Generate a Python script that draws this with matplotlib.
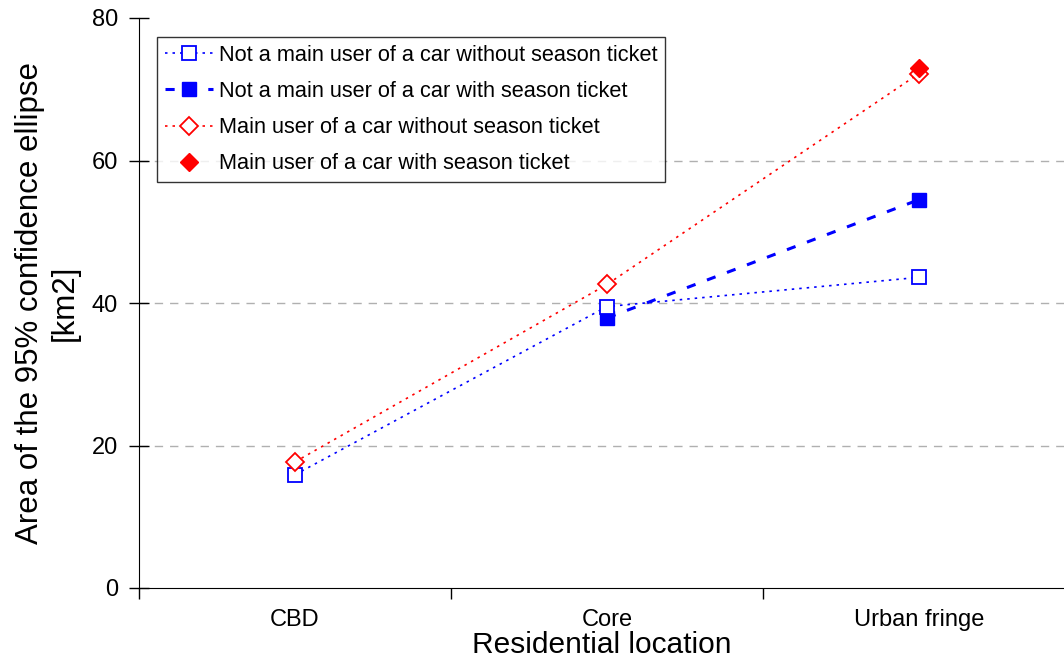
import numpy as np
import matplotlib.pyplot as plt

plt.rcParams['font.family'] = ['Liberation Sans', 'DejaVu Sans']

locations = ['CBD', 'Core', 'Urban fringe']
x = np.arange(len(locations))

not_main_no_ticket = [15.9, 39.5, 43.6]
not_main_ticket = [np.nan, 37.9, 54.5]
main_no_ticket = [17.7, 42.6, 72.2]
main_ticket = [np.nan, np.nan, 73.0]

fig = plt.figure(figsize=(10.64, 6.67), dpi=100)
ax = fig.add_axes([139 / 1064, 79 / 667, 925 / 1064, 570 / 667])

ax.plot(x, not_main_ticket, color='#0000ff', linestyle=(0, (3, 4)), linewidth=2.2,
        marker='s', markersize=10.5, markerfacecolor='#0000ff', markeredgecolor='#0000ff',
        label='Not a main user of a car with season ticket', zorder=3)
ax.plot(x, not_main_no_ticket, color='#0000ff', linestyle=(0, (1.5, 3)), linewidth=1.2,
        marker='s', markersize=10.5, markerfacecolor='white', markeredgecolor='#0000ff',
        markeredgewidth=1.3, label='Not a main user of a car without season ticket', zorder=4)
ax.plot(x, main_no_ticket, color='#ff0000', linestyle=(0, (1.5, 3)), linewidth=1.2,
        marker='D', markersize=9.5, markerfacecolor='white', markeredgecolor='#ff0000',
        markeredgewidth=1.3, label='Main user of a car without season ticket', zorder=4)
ax.plot(x, main_ticket, color='#ff0000', linestyle='none',
        marker='D', markersize=9.5, markerfacecolor='#ff0000', markeredgecolor='#ff0000',
        label='Main user of a car with season ticket', zorder=5)

ax.set_yticks([0, 20, 40, 60, 80])
ax.set_xticks([-0.5, 0.5, 1.5, 2.5])
ax.set_xticklabels([])
ax.set_xticks(x, minor=True)
ax.set_xticklabels(locations, minor=True, fontsize=17)
ax.set_xlim(-0.5, 2.465)
ax.set_ylim(0, 80)
ax.tick_params(axis='x', which='minor', length=0, pad=15)
ax.tick_params(axis='x', which='major', direction='out', length=8, width=1)
ax.tick_params(axis='y', direction='inout', length=15, width=1, labelsize=17, pad=7.5)

for v in [20, 40, 60]:
    ax.axhline(v, color='#b0b0b0', linestyle=(0, (6, 5)), linewidth=1, zorder=1)

ax.spines['top'].set_visible(False)
ax.spines['right'].set_visible(False)

ax.set_xlabel('Residential location', fontsize=21.5, labelpad=0)
ax.set_ylabel('Area of the 95% confidence ellipse\n[km2]', fontsize=22.5, labelpad=9)

handles, labels = ax.get_legend_handles_labels()
order = [1, 0, 2, 3]
leg = ax.legend([handles[i] for i in order], [labels[i] for i in order],
                loc='upper left', bbox_to_anchor=(18 / 925, 551 / 570),
                fontsize=15.7, frameon=True, fancybox=False, edgecolor='black',
                handlelength=2.2, handletextpad=0.3, borderaxespad=0,
                borderpad=0.35, labelspacing=0.7)
leg.get_frame().set_linewidth(1)

fig.savefig('out.png', dpi=100)
